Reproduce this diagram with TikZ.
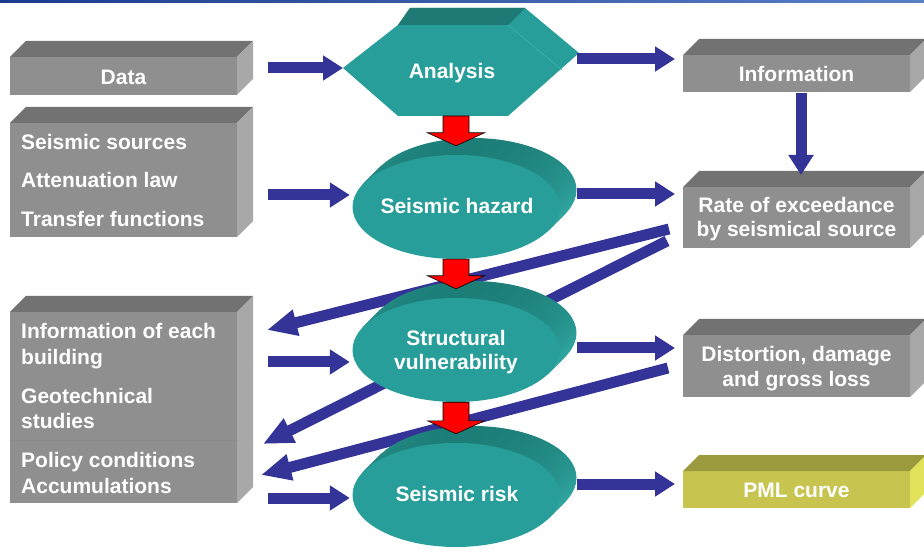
\documentclass[tikz,border=0pt]{standalone}
\usepackage{fontspec}
\setmainfont{Liberation Sans}
\usetikzlibrary{arrows.meta,calc,shapes.geometric}
\definecolor{gfront}{HTML}{8F8F8F}
\definecolor{gtop}{HTML}{727272}
\definecolor{gside}{HTML}{A8A8A8}
\definecolor{yfront}{HTML}{C8C450}
\definecolor{ytop}{HTML}{9B9A3C}
\definecolor{yside}{HTML}{E2E25A}
\definecolor{teal1}{HTML}{279E9A}
\definecolor{tealtop}{HTML}{1F7A76}
\definecolor{tealfold}{HTML}{3DB5B0}
\definecolor{rimdark}{HTML}{1D7E78}
\definecolor{rimlight}{HTML}{3BBDB7}
\definecolor{barblue}{HTML}{343498}
\definecolor{stripdark}{HTML}{1B3C8E}
\definecolor{striplight}{HTML}{5A80C4}
\newcommand{\gbox}[6]{%
  \node[fill=#6front, minimum width=#4pt, minimum height=#5pt, inner sep=0pt, outer sep=0pt] (#1) at (#2,#3) {};
  \fill[#6top] (#1.north west) -- ++(16,-16) -- ($(#1.north east)+(16,-16)$) -- (#1.north east) -- cycle;
  \fill[#6side] (#1.north east) -- ++(16,-16) -- ($(#1.south east)+(16,-16)$) -- (#1.south east) -- cycle;
}
\newcommand{\disc}[2]{%
  \foreach \i in {17,16,...,1}
    \shade[top color=rimdark, bottom color=rimlight] ($(#1)+(\i,-\i)$) ellipse [x radius=103.5pt, y radius=52pt];
  \node[ellipse, fill=teal1, minimum width=207pt, minimum height=104pt, inner sep=0pt] (#2) at (#1) {};
}
\newcommand{\redarr}[2]{%
  \draw[rarrow] ($(#1)+(-13,0)$) -- ($(#2)+(-13,-13)$) -- ($(#2)+(-28.5,-13)$) -- (#2)
    -- ($(#2)+(28.5,-13)$) -- ($(#2)+(13,-13)$) -- ($(#1)+(13,0)$) -- cycle;
}
\begin{document}
\begin{tikzpicture}[x=1pt,y=-1pt,
  txt/.style={text=white, font=\fontsize{21}{25}\selectfont\bfseries, inner sep=0pt},
  barrow/.style={draw=barblue, line width=11pt, -{Triangle[length=20pt,width=24pt]}},
  darrow/.style={draw=barblue, line width=11pt, -{Triangle[length=30pt,width=25pt]}},
  rarrow/.style={draw=black, fill=red, line width=0.6pt, line join=miter}]
\useasboundingbox (0,0) rectangle (924,553);
\clip (0,0) rectangle (924,553);
\shade[left color=stripdark, right color=striplight] (0,0) rectangle (924,3);

% left boxes
\gbox{data}{123.5}{76}{227}{38}{g}
\gbox{src}{123.5}{180}{227}{114}{g}
\gbox{pol}{123.5}{471.5}{227}{63}{g}
\gbox{bld}{123.5}{376}{227}{128}{g}
% right boxes
\gbox{info}{796.5}{73.5}{227}{37}{g}
\gbox{rate}{796.5}{217.5}{227}{61}{g}
\gbox{dist}{796.5}{366}{227}{62}{g}
\gbox{pml}{796.5}{489.5}{227}{37}{y}

% box texts
\node[txt, anchor=base] (tdata) at (123.5,85) {Data};
\node[txt, anchor=base west] (tsrc1) at (21,150) {Seismic sources};
\node[txt, anchor=base west] (tsrc2) at (21,188) {Attenuation law};
\node[txt, anchor=base west] (tsrc3) at (21,227) {Transfer functions};
\node[txt, anchor=base west] (tbld1) at (21,339) {Information of each};
\node[txt, anchor=base west] (tbld2) at (21,365) {building};
\node[txt, anchor=base west] (tbld3) at (21,403) {Geotechnical};
\node[txt, anchor=base west] (tbld4) at (21,428) {studies};
\node[txt, anchor=base west] (tpol1) at (21,467) {Policy conditions};
\node[txt, anchor=base west] (tpol2) at (21,493) {Accumulations};
\node[txt, anchor=base] (tinfo) at (796.5,82) {Information};
\node[txt, anchor=base] (trate1) at (796.5,213) {Rate of exceedance};
\node[txt, anchor=base] (trate2) at (796.5,237) {by seismical source};
\node[txt, anchor=base] (tdist1) at (796.5,362) {Distortion, damage};
\node[txt, anchor=base] (tdist2) at (796.5,387) {and gross loss};
\node[txt, anchor=base] (tpml) at (796.5,497) {PML curve};

% hexagon (Analysis)
\coordinate (anaL) at (343,68);
\coordinate (anaTL) at (398,25);
\coordinate (anaTR) at (508,25);
\coordinate (anaR) at (562,70);
\coordinate (anaBR) at (508,116);
\coordinate (anaBL) at (398,116);
\coordinate (anaB) at (456,116);
\coordinate (anaE) at (577,59);
\fill[teal1] (anaL) -- (anaTL) -- (410,8) -- (525,8) -- (579,53) -- (anaBR) -- (anaBL) -- cycle;
\fill[tealtop] (anaTL) -- (410,8) -- (525,8) -- (anaTR) -- cycle;
\draw[tealfold, line width=0.6pt] (anaTR) -- (anaR);
\node[txt, anchor=base] (tana) at (452,79) {Analysis};

% diagonal feedback arrows (behind discs)
\draw[darrow] ($(rate.west)+(-14,11.5)$) -- ($(bld.east)+(30,-46)$);
\draw[darrow] ($(rate.west)+(-16,23.5)$) -- ($(bld.south east)+(26,4)$);
\draw[darrow] ($(dist.west)+(-15,2)$) -- ($(pol.east)+(24,3.5)$);

% discs
\coordinate (hazc) at (456,207);
\coordinate (vulc) at (456,350);
\coordinate (riskc) at (456,495);
\disc{hazc}{haz}
\disc{vulc}{vul}
\disc{riskc}{risk}
\node[txt, anchor=base] (thaz) at (457,214) {Seismic hazard};
\node[txt, anchor=base] (tvul1) at (456,346) {Structural};
\node[txt, anchor=base] (tvul2) at (456,370) {vulnerability};
\node[txt, anchor=base] (trisk) at (457,501) {Seismic risk};

% red arrows
\redarr{anaB}{$(haz.north)+(0,-9)$}
\redarr{haz.south}{$(vul.north)+(0,-9)$}
\redarr{vul.south}{$(risk.north)+(0,-9)$}

% blue straight arrows
\draw[barrow] ($(anaL -| data.east)+(31,0)$) -- (anaL);
\draw[barrow] (anaE) -- ($(anaE -| info.west)+(-8,0)$);
\draw[barrow] ($(info.south)+(4.5,1)$) -- ($(rate.north)+(4.5,-12)$);
\draw[barrow] ($(src.east |- haz.west)+(31,-12)$) -- ($(haz.west)+(-2.5,-12)$);
\draw[barrow] ($(haz.east)+(17.5,-13)$) -- ($(rate.west |- haz.east)+(-8,-13)$);
\draw[barrow] ($(bld.east |- vul.west)+(31,12)$) -- ($(vul.west)+(-2.5,12)$);
\draw[barrow] ($(vul.east)+(17.5,-2)$) -- ($(dist.west |- vul.east)+(-8,-2)$);
\draw[barrow] ($(pol.east |- risk.west)+(31,3)$) -- ($(risk.west)+(-2.5,3)$);
\draw[barrow] ($(risk.east)+(17.5,-11)$) -- ($(pml.west |- risk.east)+(-8,-11)$);
\end{tikzpicture}
\end{document}
